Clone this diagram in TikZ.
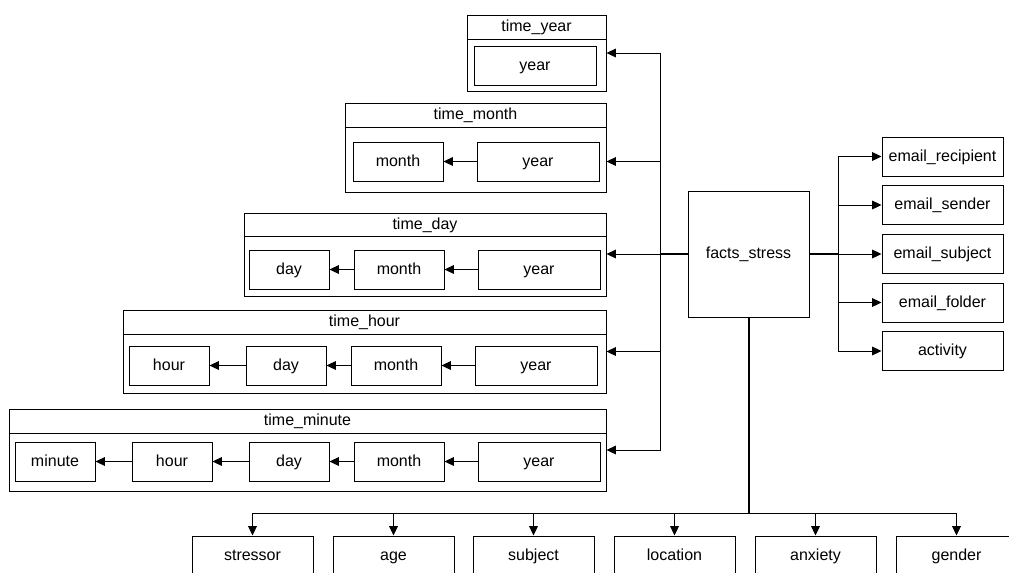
\documentclass[tikz,border=0pt]{standalone}
\usepackage{fontspec}
\setmainfont{Liberation Sans}
\usetikzlibrary{arrows.meta}
\begin{document}
\begin{tikzpicture}[x=0.75pt,y=-0.75pt,
  font=\fontsize{12pt}{14pt}\selectfont,
  bx/.style 2 args={draw, line width=0.75pt, inner sep=0pt, text height=9.4pt, text depth=2.2pt, minimum width=#1*0.75pt, minimum height=#2*0.75pt},
  ibox/.style={bx={#1}{39}},
  ttl/.style={inner sep=0pt, text height=9.4pt, text depth=2.2pt},
  hdr/.style={line width=0.75pt},
  arr/.style={line width=0.75pt, -{Triangle[length=7pt,width=6.5pt]}},
  trunk/.style={line width=1.5pt}]
\useasboundingbox (0,0) rectangle (1009,572);
\clip (0,0) rectangle (1009,572);

% ---- time_year
\node[bx={139}{76}] (ty) at (536.5,53) {};
\draw[hdr] (ty.west |- 0,39) -- (ty.east |- 0,39);
\node[ttl] (tyt) at (536.5,27) {time\_year};
\node[ibox=122] (tyyear) at (535,65.5) {year};

% ---- time_month
\node[bx={261}{89}] (tm) at (475.5,147.5) {};
\draw[hdr] (tm.west |- 0,127) -- (tm.east |- 0,127);
\node[ttl] (tmt) at (475.5,115) {time\_month};
\node[ibox=90] (tmmonth) at (398,161.5) {month};
\node[ibox=122] (tmyear) at (538,161.5) {year};
\draw[arr] (tmyear) -- (tmmonth);

% ---- time_day
\node[bx={362}{83}] (td) at (425,254.5) {};
\draw[hdr] (td.west |- 0,236) -- (td.east |- 0,236);
\node[ttl] (tdt) at (425,224.5) {time\_day};
\node[ibox=80] (tdday) at (289,269.5) {day};
\node[ibox=90] (tdmonth) at (399,269.5) {month};
\node[ibox=122] (tdyear) at (539,269.5) {year};
\draw[arr] (tdyear) -- (tdmonth);
\draw[arr] (tdmonth) -- (tdday);

% ---- time_hour
\node[bx={483}{83}] (th) at (364.5,351.5) {};
\draw[hdr] (th.west |- 0,334) -- (th.east |- 0,334);
\node[ttl] (tht) at (364.5,322) {time\_hour};
\node[ibox=80] (thhour) at (169,365.5) {hour};
\node[ibox=80] (thday) at (286,365.5) {day};
\node[ibox=90] (thmonth) at (396,365.5) {month};
\node[ibox=122] (thyear) at (536,365.5) {year};
\draw[arr] (thyear) -- (thmonth);
\draw[arr] (thmonth) -- (thday);
\draw[arr] (thday) -- (thhour);

% ---- time_minute
\node[bx={597}{82}] (tn) at (307.5,450) {};
\draw[hdr] (tn.west |- 0,433) -- (tn.east |- 0,433);
\node[ttl] (tnt) at (307.5,421) {time\_minute};
\node[ibox=80] (tnminute) at (55,461.5) {minute};
\node[ibox=80] (tnhour) at (172,461.5) {hour};
\node[ibox=80] (tnday) at (289,461.5) {day};
\node[ibox=90] (tnmonth) at (399,461.5) {month};
\node[ibox=122] (tnyear) at (539,461.5) {year};
\draw[arr] (tnyear) -- (tnmonth);
\draw[arr] (tnmonth) -- (tnday);
\draw[arr] (tnday) -- (tnhour);
\draw[arr] (tnhour) -- (tnminute);

% ---- facts
\node[bx={121}{126}] (facts) at (748.5,254) {facts\_stress};

% ---- right boxes
\node[ibox=121] (erec) at (942.5,156.5) {email\_recipient};
\node[ibox=121] (esend) at (942.5,205) {email\_sender};
\node[ibox=121] (esubj) at (942.5,253.5) {email\_subject};
\node[ibox=121] (efold) at (942.5,302.5) {email\_folder};
\node[ibox=121] (act) at (942.5,351) {activity};

% ---- bottom boxes
\node[ibox=121] (stressor) at (252.5,555.5) {stressor};
\node[ibox=121] (age) at (393.5,555.5) {age};
\node[ibox=121] (subject) at (533.5,555.5) {subject};
\node[ibox=121] (location) at (674.5,555.5) {location};
\node[ibox=121] (anxiety) at (815.5,555.5) {anxiety};
\node[ibox=121] (gender) at (956.5,555.5) {gender};

% ---- junctions
\coordinate (jl) at (660,254);
\coordinate (jr) at (838,254);
\coordinate (jb) at (748.5,513);

% left tree
\draw[trunk] (facts.west) -- (jl);
\draw[arr] (jl) |- (ty.east);
\draw[arr] (jl) |- (tm.east |- tmyear);
\draw[arr] (jl) -- (td.east |- jl);
\draw[arr] (jl) |- (th.east);
\draw[arr] (jl) |- (tn.east);

% right tree
\draw[trunk] (facts.east) -- (jr);
\draw[arr] (jr) |- (erec.west);
\draw[arr] (jr) |- (esend.west);
\draw[arr] (jr) -- (esubj.west |- jr);
\draw[arr] (jr) |- (efold.west);
\draw[arr] (jr) |- (act.west);

% bottom tree
\draw[trunk] (facts.south) -- (jb);
\draw[arr] (jb) -| (stressor.north);
\draw[arr] (jb) -| (age.north);
\draw[arr] (jb) -| (subject.north);
\draw[arr] (jb) -| (location.north);
\draw[arr] (jb) -| (anxiety.north);
\draw[arr] (jb) -| (gender.north);
\end{tikzpicture}
\end{document}
